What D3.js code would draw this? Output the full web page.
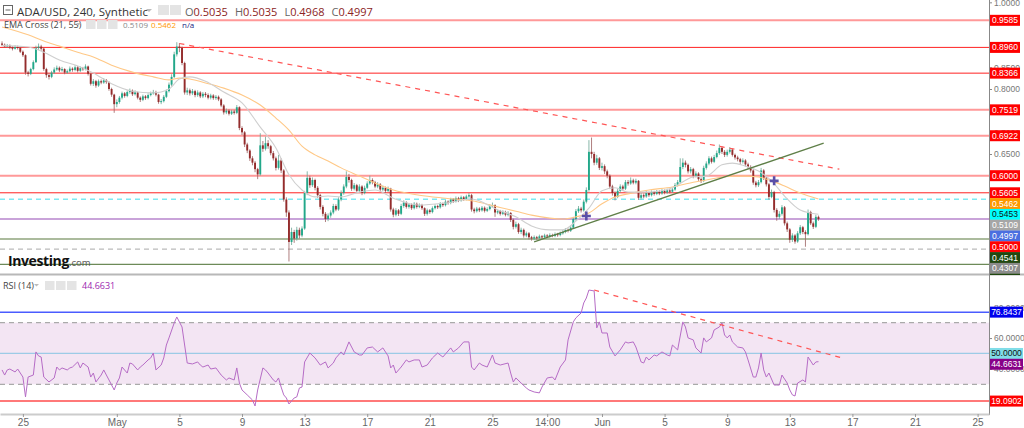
<!DOCTYPE html>
<html><head><meta charset="utf-8">
<script src="https://cdn.jsdelivr.net/npm/d3@7"></script>
<style>
body{margin:0;background:#fff;}
svg{display:block;font-family:"Open Sans","Noto Sans",sans-serif;}
</style>
</head><body>
<svg id="c" width="1024" height="428"></svg>
<script>
// ---------------- DATA ----------------
const firstCandle = "2022-04-23T16:00:00Z";   // 4h candles
const candleHours = 4;
const firstOpen = 0.905;
const closes = [
0.902,0.898,0.900,0.896,0.893,0.897,0.895,0.886,0.878,0.838,
0.835,0.846,0.862,0.895,0.898,0.893,0.846,0.832,0.828,0.838,
0.845,0.849,0.843,0.846,0.838,0.841,0.847,0.844,0.850,0.842,
0.848,0.846,0.852,0.835,0.812,0.818,0.808,0.818,0.815,0.820,
0.816,0.800,0.787,0.765,0.770,0.780,0.790,0.784,0.793,0.796,
0.788,0.792,0.780,0.775,0.783,0.779,0.786,0.790,0.793,0.787,
0.770,0.772,0.782,0.795,0.810,0.828,0.880,0.898,0.895,0.860,
0.792,0.797,0.790,0.795,0.786,0.792,0.783,0.789,0.786,0.780,
0.785,0.779,0.782,0.776,0.762,0.746,0.750,0.743,0.748,0.745,
0.758,0.710,0.700,0.672,0.658,0.640,0.630,0.615,0.603,0.670,
0.662,0.675,0.668,0.652,0.640,0.618,0.635,0.612,0.545,0.515,
0.447,0.470,0.455,0.475,0.462,0.478,0.560,0.595,0.578,0.590,
0.572,0.555,0.528,0.512,0.500,0.508,0.515,0.530,0.522,0.545,
0.560,0.575,0.597,0.590,0.570,0.578,0.565,0.575,0.560,0.572,
0.582,0.590,0.585,0.575,0.580,0.568,0.572,0.565,0.570,0.522,
0.510,0.520,0.512,0.530,0.538,0.528,0.533,0.525,0.535,0.528,
0.532,0.525,0.512,0.520,0.516,0.525,0.530,0.527,0.535,0.532,
0.540,0.537,0.545,0.541,0.548,0.543,0.550,0.546,0.552,0.555,
0.522,0.518,0.524,0.520,0.526,0.519,0.523,0.530,0.532,0.515,
0.518,0.512,0.516,0.510,0.514,0.498,0.482,0.488,0.470,0.475,
0.462,0.467,0.458,0.455,0.458,0.456,0.460,0.458,0.462,0.460,
0.463,0.461,0.465,0.463,0.467,0.470,0.475,0.473,0.480,0.500,
0.518,0.524,0.520,0.540,0.567,0.655,0.650,0.630,0.640,0.618,
0.622,0.610,0.600,0.575,0.560,0.551,0.565,0.575,0.570,0.585,
0.582,0.589,0.584,0.588,0.549,0.555,0.552,0.560,0.555,0.562,
0.558,0.563,0.559,0.565,0.561,0.566,0.563,0.568,0.578,0.585,
0.620,0.630,0.625,0.610,0.615,0.600,0.605,0.592,0.588,0.618,
0.628,0.640,0.632,0.643,0.652,0.664,0.655,0.648,0.655,0.660,
0.648,0.642,0.638,0.632,0.635,0.626,0.620,0.612,0.584,0.578,
0.585,0.612,0.595,0.580,0.551,0.562,0.521,0.505,0.512,0.527,
0.490,0.476,0.452,0.462,0.448,0.467,0.481,0.470,0.465,0.516,
0.490,0.482,0.505,0.4997];
const highs = [
0.910,0.905,0.904,0.903,0.899,0.901,0.900,0.897,0.889,0.880,
0.842,0.849,0.866,0.900,0.905,0.902,0.895,0.849,0.836,0.842,
0.850,0.854,0.852,0.851,0.848,0.845,0.852,0.850,0.855,0.853,
0.852,0.851,0.857,0.854,0.837,0.823,0.821,0.822,0.822,0.825,
0.823,0.818,0.803,0.789,0.776,0.784,0.794,0.793,0.797,0.801,
0.799,0.797,0.794,0.783,0.787,0.786,0.790,0.794,0.798,0.796,
0.789,0.777,0.786,0.799,0.815,0.834,0.886,0.908,0.906,0.898,
0.863,0.803,0.801,0.800,0.798,0.797,0.795,0.793,0.793,0.790,
0.789,0.788,0.786,0.785,0.779,0.765,0.755,0.753,0.752,0.752,
0.763,0.760,0.714,0.703,0.676,0.661,0.645,0.634,0.618,0.698,
0.680,0.690,0.682,0.671,0.657,0.644,0.648,0.640,0.615,0.550,
0.520,0.480,0.475,0.482,0.480,0.483,0.565,0.610,0.600,0.596,
0.593,0.576,0.558,0.532,0.516,0.513,0.520,0.535,0.534,0.550,
0.566,0.580,0.610,0.604,0.593,0.583,0.581,0.580,0.578,0.577,
0.587,0.600,0.594,0.588,0.585,0.583,0.577,0.575,0.575,0.572,
0.526,0.525,0.523,0.535,0.543,0.541,0.537,0.536,0.539,0.538,
0.536,0.535,0.527,0.524,0.523,0.529,0.534,0.533,0.539,0.538,
0.544,0.543,0.549,0.548,0.552,0.551,0.554,0.553,0.556,0.560,
0.558,0.526,0.528,0.527,0.530,0.529,0.527,0.534,0.538,0.534,
0.522,0.521,0.520,0.519,0.518,0.516,0.501,0.494,0.491,0.480,
0.478,0.471,0.470,0.461,0.462,0.461,0.464,0.463,0.466,0.465,
0.467,0.466,0.469,0.468,0.471,0.475,0.479,0.478,0.485,0.505,
0.523,0.530,0.528,0.545,0.573,0.682,0.688,0.655,0.648,0.643,
0.630,0.626,0.614,0.603,0.579,0.564,0.570,0.580,0.579,0.590,
0.590,0.596,0.593,0.593,0.590,0.560,0.559,0.565,0.563,0.566,
0.565,0.567,0.566,0.569,0.568,0.570,0.569,0.572,0.583,0.590,
0.640,0.640,0.635,0.628,0.620,0.618,0.610,0.608,0.596,0.623,
0.633,0.645,0.644,0.648,0.658,0.672,0.668,0.659,0.660,0.666,
0.663,0.651,0.646,0.641,0.640,0.638,0.630,0.624,0.615,0.588,
0.590,0.618,0.615,0.598,0.583,0.568,0.565,0.525,0.518,0.532,
0.530,0.494,0.479,0.467,0.465,0.472,0.486,0.484,0.474,0.522,
0.519,0.494,0.510,0.508];
const lows = [
0.899,0.895,0.896,0.892,0.889,0.891,0.891,0.883,0.874,0.833,
0.829,0.832,0.843,0.860,0.890,0.888,0.842,0.826,0.822,0.825,
0.835,0.842,0.839,0.840,0.834,0.835,0.838,0.840,0.841,0.838,
0.839,0.842,0.843,0.831,0.808,0.807,0.803,0.805,0.811,0.812,
0.812,0.796,0.782,0.745,0.758,0.766,0.776,0.780,0.781,0.789,
0.784,0.785,0.776,0.770,0.772,0.775,0.776,0.783,0.787,0.783,
0.766,0.765,0.769,0.779,0.792,0.806,0.825,0.875,0.885,0.855,
0.787,0.786,0.785,0.786,0.781,0.782,0.779,0.779,0.781,0.776,
0.776,0.775,0.775,0.772,0.758,0.741,0.742,0.739,0.740,0.741,
0.742,0.705,0.694,0.666,0.652,0.634,0.624,0.608,0.592,0.600,
0.655,0.658,0.662,0.647,0.635,0.612,0.614,0.606,0.540,0.505,
0.402,0.440,0.445,0.450,0.455,0.458,0.475,0.555,0.572,0.574,
0.566,0.549,0.522,0.506,0.493,0.495,0.503,0.511,0.518,0.519,
0.541,0.556,0.571,0.584,0.565,0.566,0.560,0.561,0.555,0.557,
0.569,0.579,0.580,0.571,0.571,0.563,0.564,0.560,0.562,0.517,
0.504,0.506,0.507,0.509,0.526,0.524,0.524,0.521,0.522,0.524,
0.525,0.521,0.507,0.508,0.512,0.513,0.522,0.523,0.524,0.528,
0.529,0.533,0.534,0.537,0.538,0.539,0.540,0.542,0.543,0.549,
0.517,0.513,0.515,0.516,0.517,0.515,0.516,0.520,0.527,0.505,
0.511,0.508,0.509,0.506,0.506,0.493,0.476,0.478,0.466,0.465,
0.457,0.458,0.453,0.450,0.451,0.452,0.453,0.454,0.455,0.456,
0.457,0.458,0.458,0.459,0.460,0.464,0.467,0.469,0.470,0.477,
0.496,0.514,0.515,0.517,0.536,0.563,0.640,0.624,0.625,0.613,
0.612,0.604,0.594,0.569,0.554,0.543,0.548,0.561,0.565,0.567,
0.577,0.579,0.580,0.580,0.544,0.545,0.548,0.549,0.551,0.552,
0.554,0.555,0.555,0.556,0.557,0.558,0.559,0.560,0.565,0.575,
0.582,0.615,0.619,0.605,0.605,0.594,0.596,0.588,0.583,0.585,
0.614,0.624,0.628,0.629,0.640,0.648,0.650,0.643,0.644,0.651,
0.644,0.637,0.633,0.627,0.628,0.621,0.615,0.607,0.579,0.573,
0.574,0.582,0.590,0.575,0.545,0.548,0.515,0.496,0.500,0.508,
0.485,0.470,0.445,0.447,0.443,0.445,0.463,0.465,0.436,0.462,
0.486,0.477,0.479,0.496];

// EMA readings (candle index -> value)
const emaIdx = [0,10,16,22,30,35,42,50,58,64,68,72,78,85,92,99,105,110,115,120,
125,130,137,143,150,160,170,180,190,197,203,210,215,220,225,230,235,240,248,257,
265,270,276,280,285,290,295,300,306,313];
const ema21 = [0.900,0.897,0.885,0.867,0.851,0.837,0.812,0.795,0.791,0.800,
0.823,0.828,0.818,0.793,0.768,0.712,0.664,0.602,0.567,0.551,
0.553,0.551,0.562,0.567,0.548,0.532,0.537,0.546,0.521,0.505,
0.484,0.475,0.475,0.495,0.525,0.565,0.572,0.562,0.562,0.572,
0.597,0.599,0.625,0.629,0.622,0.611,0.588,0.553,0.521,0.5109];
const ema55 = [0.943,0.925,0.911,0.899,0.883,0.874,0.855,0.839,0.828,0.821,
0.825,0.823,0.814,0.802,0.786,0.763,0.733,0.705,0.668,0.648,
0.634,0.618,0.599,0.583,0.567,0.555,0.548,0.542,0.528,0.518,
0.509,0.502,0.500,0.505,0.514,0.535,0.551,0.558,0.567,0.574,
0.585,0.590,0.597,0.599,0.599,0.597,0.588,0.576,0.560,0.5462];

// RSI(14) readings (candle index -> value)
const rsiIdx = [0,1,2,3,5,6,8,9,10,12, 13,14,15,16,18,20,21,22,23,25,
26,27,29,30,31,33,34,35,36,38, 39,40,41,43,44,45,46,48,49,50,
52,53,54,56,57,58,59,61,62,63, 64,66,67,69,71,73,75,76,77,79,
80,82,84,86,87,89,90,91,92,94, 96,97,98,100,101,102,104,105,106,107,
108,109,110,112,113,114,115,116,118,120, 122,124,125,127,128,130,131,133,135,137,
138,140,142,144,146,148,149,150,151,153, 155,156,158,160,161,163,165,167,169,172,
173,175,177,179,180,181,183,184,186,188, 189,191,194,195,196,197,199,201,202,204,
206,207,209,211,212,214,216,217,219,220, 222,223,224,225,227,228,229,230,232,233,
235,237,239,240,242,243,245,246,247,248, 250,251,253,255,256,257,259,261,262,263,
265,266,268,269,270,272,273,275,276,277, 278,279,280,282,284,285,286,288,289,290,
291,292,293,294,296,297,298,299,301,302, 303,304,305,307,308,309,311,312,313];
const rsiVal = [39.3,36.0,39.3,39.9,38.0,39.9,34.7,21.8,34.7,36.0, 51.0,48.4,47.7,34.7,31.5,34.1,41.2,39.3,40.6,39.3,
40.6,41.2,44.5,40.6,43.8,41.2,34.7,37.3,31.5,36.0, 39.3,36.0,32.8,26.3,30.8,34.1,41.2,37.3,43.8,43.2,
39.3,41.2,42.5,45.8,47.1,50.3,39.3,42.5,47.1,55.5, 60.1,69.8,73.7,67.2,43.8,43.2,44.5,42.5,41.2,42.5,
39.9,40.6,36.0,32.8,34.1,32.8,40.6,30.8,26.3,23.1, 19.8,15.9,26.3,40.6,39.3,37.3,32.8,31.5,34.1,28.2,
23.1,21.1,17.2,21.1,21.8,27.6,28.2,44.5,50.3,47.1, 42.5,44.5,40.6,43.8,47.1,51.0,49.0,57.5,51.0,49.0,
49.0,53.6,54.2,51.0,53.6,48.4,40.6,42.5,37.3,41.2, 45.8,44.5,45.8,45.8,41.2,42.5,47.1,50.3,47.7,53.6,
51.0,53.6,57.5,57.5,41.2,39.3,43.8,42.5,41.2,49.0, 43.8,42.5,43.8,37.3,31.5,34.1,30.8,27.6,26.3,25.0,
24.4,28.2,34.1,34.7,32.8,41.2,45.8,58.8,70.5,73.1, 76.3,82.8,86.0,91.2,90.6,66.6,70.5,63.3,63.3,54.2,
48.4,52.3,57.5,56.8,57.5,54.2,44.5,43.8,47.7,45.8, 49.0,48.4,51.0,49.0,48.4,55.5,52.3,70.5,67.2,60.1,
58.8,53.6,50.3,60.1,57.5,60.1,65.3,67.2,69.8,62.0, 60.1,62.0,57.5,54.2,53.6,51.0,45.8,34.7,34.7,40.6,
50.3,39.3,34.7,37.3,29.5,29.5,29.5,36.0,30.8,26.3, 23.1,22.4,30.8,32.8,31.5,47.7,42.5,44.5,44.6631];

// horizontal price levels
const levelValues = [0.9585,0.8960,0.8366,0.7519,0.6922,0.6000,0.5605,0.5453,0.5000,0.4541,0.4307,0.3954];
// right-axis price labels, in displayed (stacking) order
const priceLabelValues = [0.9585,0.8960,0.8366,0.7519,0.6922,0.6000,0.5605,0.5462,0.5453,0.5109,0.4997,0.5000,0.4541,0.4307,0.3954];
// axis ticks left visible (the rest sit under the coloured labels)
const priceTicks = [0.65,0.70,0.80,0.85,1.00];
// trend lines (candle index, value)
const resistIdx = [68, 321], resistVal = [0.905, 0.615];
const supportIdx = [204, 315], supportVal = [0.447, 0.675];
const crossIdx = [224, 296], crossVal = [0.507, 0.588];
// RSI panel
const rsiLevels = [76.8437, 50, 19.0902];
const rsiBand = [30, 70];
const rsiTicks = [40, 60, 80];
const rsiLabelValues = [76.8437, 50.0000, 44.6631, 19.0902];
const rsiTrendIdx = [227, 322], rsiTrendVal = [91.2, 47.1];
// x axis
const tickDates = ["2022-04-25","2022-05-01","2022-05-05","2022-05-09","2022-05-13","2022-05-17","2022-05-21","2022-05-25","2022-05-28T12:00","2022-06-01","2022-06-05","2022-06-09","2022-06-13","2022-06-17","2022-06-21","2022-06-25"];
const tickLabels = ["25","May","5","9","13","17","21","25","14:00","Jun","5","9","13","17","21","25"];
// header
const title = "ADA/USD, 240, Synthetic";
const ohlcKeys = ["O","H","L","C"];
const ohlcVals = ["0.5035","0.5035","0.4968","0.4997"];
const emaLegendVals = ["0.5109","0.5462","n/a"];

// ---------------- STYLES ----------------
const levelStyles = [
 {c:"#f77",w:2,o:0.75},{c:"#f22",w:1,o:1},{c:"#f22",w:1,o:1},{c:"#f77",w:2,o:0.75},{c:"#f77",w:2,o:0.75},
 {c:"#f77",w:2,o:0.75},{c:"#f22",w:1,o:1},{c:"#7ee9f2",w:1.5,o:1,d:"5,4"},{c:"#c9a3d9",w:2,o:1},
 {c:"#8fa57c",w:1.5,o:1},{c:"#bbb",w:1.2,o:1,d:"5,4"},{c:"#6d8a58",w:1.2,o:1}];
const priceLabelStyles = [
 {bg:"#ff0000",fg:"#fff"},{bg:"#ff0000",fg:"#fff"},{bg:"#ff0000",fg:"#fff"},{bg:"#ff0000",fg:"#fff"},{bg:"#ff0000",fg:"#fff"},
 {bg:"#ff0000",fg:"#fff"},{bg:"#ff0000",fg:"#fff"},{bg:"#ff9900",fg:"#fff"},{bg:"#00ffff",fg:"#111"},{bg:"#a6a6a6",fg:"#fff"},
 {bg:"#4a6fe0",fg:"#fff"},{bg:"#ff0000",fg:"#fff"},{bg:"#20480f",fg:"#fff"},{bg:"#8c8c8c",fg:"#fff"},{bg:"#20480f",fg:"#fff"}];
const rsiLevelStyles = [{c:"#4a5cff",w:1.5},{c:"#9ccbe6",w:1.2},{c:"#ff4d4d",w:1.5}];
const rsiLabelStyles = [{bg:"#0000ee",fg:"#fff"},{bg:"#80dde8",fg:"#111"},{bg:"#880088",fg:"#fff"},{bg:"#ff0000",fg:"#fff"}];

// ---------------- DRAW ----------------
const svg = d3.select("#c");
const plotR = 989, priceBottom = 272, rsiTop = 276, rsiBottom = 412;
const H4 = 3600e3*candleHours;
const t0 = Date.parse(firstCandle);
const x = d3.scaleUtc().domain([new Date("2022-04-23T12:53:00Z"), new Date("2022-06-25T17:29:00Z")]).range([0, plotR]);
const y = d3.scaleLinear().domain([0.3777, 1.0054]).range([priceBottom, 0]);
const yr = d3.scaleLinear().domain([12.0, 100.3]).range([rsiBottom, rsiTop]);
const xi = i => x(new Date(t0 + i*H4));

const defs = svg.append("defs");
defs.append("clipPath").attr("id","cp").append("rect").attr("x",0).attr("y",0).attr("width",plotR).attr("height",priceBottom);
defs.append("clipPath").attr("id","cr").append("rect").attr("x",0).attr("y",rsiTop).attr("width",plotR).attr("height",rsiBottom-rsiTop);
defs.append("clipPath").attr("id","cpl").append("rect").attr("x",plotR).attr("y",0).attr("width",40).attr("height",priceBottom+3);

// ---- price panel
const gp = svg.append("g").attr("clip-path","url(#cp)");
levelValues.forEach((v,k)=>{
  const s = levelStyles[k];
  gp.append("line").attr("x1",0).attr("x2",plotR).attr("y1",y(v)).attr("y2",y(v))
    .attr("stroke",s.c).attr("stroke-width",s.w).attr("stroke-opacity",s.o)
    .attr("stroke-dasharray",s.d||null);
});

const candles = closes.map((c,i)=>({i, o: i===0?firstOpen:closes[i-1], h:highs[i], l:lows[i], c}));
const cg = gp.append("g");
cg.selectAll("line.w").data(candles).join("line").attr("class","w")
  .attr("x1",d=>xi(d.i)).attr("x2",d=>xi(d.i)).attr("y1",d=>y(d.h)).attr("y2",d=>y(d.l))
  .attr("stroke",d=>d.c>=d.o?"#6aa593":"#9a6060").attr("stroke-width",0.8);
cg.selectAll("rect").data(candles).join("rect")
  .attr("x",d=>xi(d.i)-0.95).attr("width",1.9)
  .attr("y",d=>y(Math.max(d.o,d.c)))
  .attr("height",d=>Math.max(1,Math.abs(y(d.o)-y(d.c))))
  .attr("fill",d=>d.c>=d.o?"#22a88a":"#942c2c");

const emaLine = d3.line().x(d=>xi(d[0])).y(d=>y(d[1])).curve(d3.curveMonotoneX);
gp.append("path").attr("d",emaLine(emaIdx.map((k,j)=>[k,ema55[j]]))).attr("fill","none").attr("stroke","#ffc886").attr("stroke-width",1.1);
gp.append("path").attr("d",emaLine(emaIdx.map((k,j)=>[k,ema21[j]]))).attr("fill","none").attr("stroke","#cfcfcf").attr("stroke-width",1.1);

const tl = d3.line().x(d=>xi(d[0])).y(d=>y(d[1]));
gp.append("path").attr("d",tl(resistIdx.map((k,j)=>[k,resistVal[j]]))).attr("stroke","#f55").attr("stroke-width",1.2).attr("stroke-dasharray","5,5").attr("fill","none");
gp.append("path").attr("d",tl(supportIdx.map((k,j)=>[k,supportVal[j]]))).attr("stroke","#5f7f48").attr("stroke-width",1.3).attr("fill","none");

crossIdx.forEach((k,j)=>{
  const cx = xi(k), cy = y(crossVal[j]);
  gp.append("path").attr("d",`M${cx-4.5},${cy}H${cx+4.5}M${cx},${cy-4.5}V${cy+4.5}`).attr("stroke","#5a4fa8").attr("stroke-width",2.6);
});

// ---- header
const hd = svg.append("g");
hd.append("rect").attr("x",3.5).attr("y",5.5).attr("width",9).attr("height",9).attr("fill","#fff").attr("stroke","#666");
hd.append("line").attr("x1",5.5).attr("x2",10.5).attr("y1",10).attr("y2",10).attr("stroke","#666");
hd.append("text").attr("x",17).attr("y",15.5).attr("font-size",11.5).attr("fill","#333").text(title);
hd.append("path").attr("d","M146,9l3,3l3,-3z").attr("fill","#bbb");
[158,170].forEach(px=>hd.append("rect").attr("x",px).attr("y",5).attr("width",11).attr("height",10).attr("fill","#e4e4e4"));
const oh = hd.append("text").attr("x",185).attr("y",15.5).attr("font-size",11);
ohlcKeys.forEach((k,j)=>{
  oh.append("tspan").attr("fill","#666").attr("dx",j?7:0).text(k);
  oh.append("tspan").attr("fill","#8c2323").text(ohlcVals[j]);
});
hd.append("text").attr("x",4).attr("y",28).attr("font-size",9).attr("fill","#444").text("EMA Cross (21, 55)");
hd.append("path").attr("d","M76,23l2.5,2.5l2.5,-2.5z").attr("fill","#bbb");
[86,97,108].forEach(px=>hd.append("rect").attr("x",px).attr("y",20).attr("width",9.5).attr("height",9).attr("fill","#e4e4e4"));
const emaCols = ["#888","#ff9800","#1a237e"];
[123,151,182].forEach((px,j)=>hd.append("text").attr("x",px).attr("y",28).attr("font-size",8).attr("fill",emaCols[j]).text(emaLegendVals[j]));

// logo
const lg = svg.append("text").attr("x",8).attr("y",266);
lg.append("tspan").attr("font-size",14).attr("font-weight","bold").attr("fill","#111").attr("letter-spacing","-0.4").text("Investing");
lg.append("tspan").attr("font-size",9.5).attr("fill","#555").text(".com");

// separator
svg.append("line").attr("x1",0).attr("x2",1024).attr("y1",274.5).attr("y2",274.5).attr("stroke","#b8b8b8").attr("stroke-width",2);

// ---- RSI panel
const gr = svg.append("g").attr("clip-path","url(#cr)");
gr.append("rect").attr("x",0).attr("width",plotR).attr("y",yr(rsiBand[1])).attr("height",yr(rsiBand[0])-yr(rsiBand[1])).attr("fill","#f3e5f3");
rsiBand.forEach(v=>gr.append("line").attr("x1",0).attr("x2",plotR).attr("y1",yr(v)).attr("y2",yr(v)).attr("stroke","#aaa").attr("stroke-width",1.2).attr("stroke-dasharray","5,4"));
rsiLevels.forEach((v,k)=>gr.append("line").attr("x1",0).attr("x2",plotR).attr("y1",yr(v)).attr("y2",yr(v)).attr("stroke",rsiLevelStyles[k].c).attr("stroke-width",rsiLevelStyles[k].w));
const rl = d3.line().x(d=>xi(d[0])).y(d=>yr(d[1]));
gr.append("path").attr("d",rl(rsiIdx.map((k,j)=>[k,rsiVal[j]]))).attr("fill","none").attr("stroke","#b66cc6").attr("stroke-width",1);
gr.append("path").attr("d",rl(rsiTrendIdx.map((k,j)=>[k,rsiTrendVal[j]]))).attr("fill","none").attr("stroke","#f55").attr("stroke-width",1.2).attr("stroke-dasharray","5,5");

svg.append("text").attr("x",3).attr("y",289).attr("font-size",9).attr("fill","#444").text("RSI (14)");
svg.append("path").attr("d","M34,284l2.5,2.5l2.5,-2.5z").attr("fill","#bbb");
[45,56,67].forEach(px=>svg.append("rect").attr("x",px).attr("y",281).attr("width",9.5).attr("height",9).attr("fill","#e4e4e4"));
svg.append("text").attr("x",82).attr("y",289).attr("font-size",9).attr("fill","#9c27b0").text(rsiVal[rsiVal.length-1].toFixed(4));

// ---- right axes
const ax = svg.append("g").attr("font-family","'Liberation Sans',Arial,sans-serif");
ax.append("line").attr("x1",plotR+0.5).attr("x2",plotR+0.5).attr("y1",0).attr("y2",415).attr("stroke","#888");
const pa = ax.append("g").attr("transform",`translate(${plotR},0)`)
  .call(d3.axisRight(y).tickValues(priceTicks).tickFormat(d3.format(".4f")).tickSize(3).tickPadding(2));
const ra = ax.append("g").attr("transform",`translate(${plotR},0)`)
  .call(d3.axisRight(yr).tickValues(rsiTicks).tickFormat(d3.format(".4f")).tickSize(3).tickPadding(2));
[pa,ra].forEach(g=>{g.select(".domain").remove(); g.selectAll("text").attr("font-size",8.5).attr("fill","#777").attr("font-family","'Liberation Sans',Arial,sans-serif"); g.selectAll("line").attr("stroke","#888");});

function stackLabels(vals, scale, step){
  let last = -Infinity;
  return vals.map(v=>{ let c = scale(v); if (c < last+step) c = last+step; last = c; return c; });
}
const lh = 10.8;
const pl = ax.append("g").attr("clip-path","url(#cpl)");
stackLabels(priceLabelValues, y, lh).forEach((cy,k)=>{
  const s = priceLabelStyles[k];
  pl.append("rect").attr("x",plotR+1).attr("y",cy-5.5).attr("width",30).attr("height",11).attr("fill",s.bg);
  pl.append("text").attr("x",plotR+16).attr("y",cy+3).attr("text-anchor","middle").attr("font-size",8.5).attr("fill",s.fg).text(priceLabelValues[k].toFixed(4));
});
stackLabels(rsiLabelValues, yr, lh).forEach((cy,k)=>{
  const s = rsiLabelStyles[k];
  ax.append("rect").attr("x",plotR+1).attr("y",cy-5.5).attr("width",33).attr("height",11).attr("fill",s.bg);
  ax.append("text").attr("x",plotR+17.5).attr("y",cy+3).attr("text-anchor","middle").attr("font-size",8.5).attr("fill",s.fg).text(rsiLabelValues[k].toFixed(4));
});

// ---- bottom time axis
const xa = svg.append("g").attr("transform","translate(0,414)")
  .call(d3.axisBottom(x).tickValues(tickDates.map(d=>new Date(d.length>10?d+":00Z":d+"T00:00:00Z"))).tickFormat((d,k)=>tickLabels[k]).tickSize(3).tickSizeOuter(0).tickPadding(2));
xa.select(".domain").attr("stroke","#ccc").attr("stroke-width",2);
xa.selectAll("line").attr("stroke","#999");
xa.selectAll("text").attr("font-size",10).attr("fill","#666").attr("font-family","'Liberation Sans Narrow','Liberation Sans',Arial,sans-serif");
</script>
</body></html>
